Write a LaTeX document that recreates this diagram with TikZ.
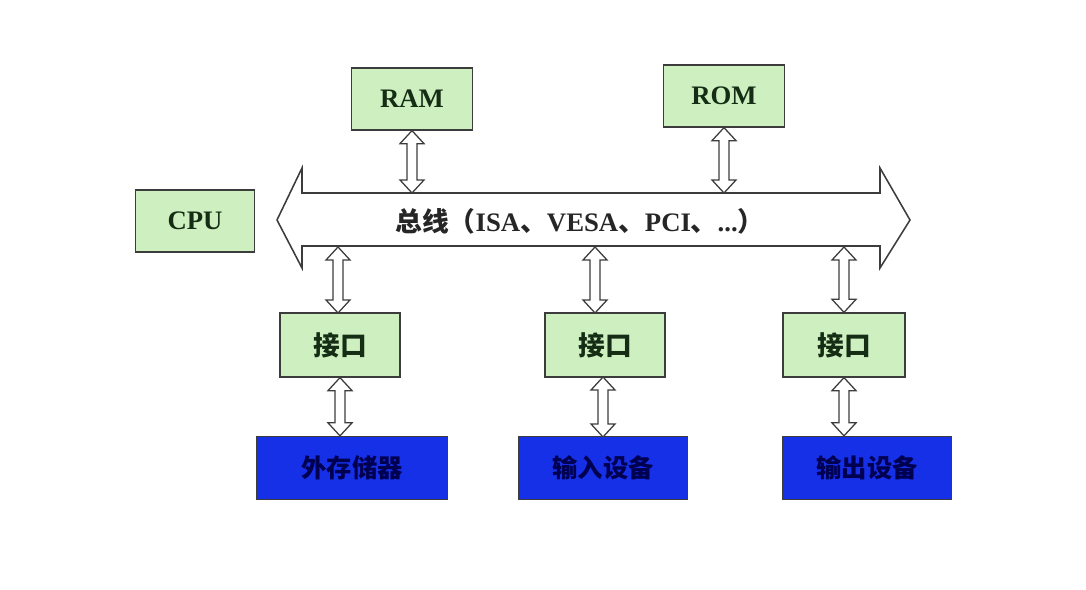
\documentclass[tikz,border=0pt]{standalone}
\usepackage{amssymb, amsmath}
\usepackage{fontspec}
\setmainfont{Liberation Serif}
\newfontfamily\cjk{Noto Sans CJK SC}
\usepackage{tikz}
\usetikzlibrary{calc,positioning}
\definecolor{boxgreen}{RGB}{206,240,192}
\definecolor{boxblue}{RGB}{22,48,232}
\definecolor{textblue}{RGB}{0,0,80}
\definecolor{textgreen}{RGB}{20,45,20}
\definecolor{edgegray}{RGB}{60,60,60}

\begin{document}
\begin{tikzpicture}[x=0.025cm,y=-0.025cm]
\tikzstyle{every node}+=[inner sep=0pt]
\tikzstyle{greenbox}=[draw=edgegray,line width=0.9pt,fill=boxgreen,text=textgreen,minimum height=1.55cm,font=\fontsize{19}{22}\selectfont\bfseries]
\tikzstyle{portbox}=[greenbox,minimum width=3cm,minimum height=1.6cm,font=\fontsize{19}{22}\selectfont\cjk\bfseries]
\tikzstyle{bluebox}=[draw=edgegray,line width=0.9pt,fill=boxblue,minimum height=1.575cm,text=textblue,font=\fontsize{18}{22}\selectfont\cjk\bfseries]
\tikzstyle{blockarrow}=[draw=edgegray,line width=0.9pt,fill=white,line join=miter,
  to path={(\tikztostart) -- ($(\tikztostart)+(12,13)$) -- ($(\tikztostart)+(5,13)$)
  -- ($(\tikztotarget)+(5,-13)$) -- ($(\tikztotarget)+(12,-13)$) -- (\tikztotarget)
  -- ($(\tikztotarget)+(-12,-13)$) -- ($(\tikztotarget)+(-5,-13)$)
  -- ($(\tikztostart)+(-5,13)$) -- ($(\tikztostart)+(-12,13)$) -- cycle}]
\useasboundingbox (0,0) rectangle (1086,590);
\fill[white] (0,0) rectangle (1086,590);
\node[greenbox,minimum width=2.975cm] (cpu) at (195,221) {CPU};
\node[greenbox,minimum width=3.025cm] (ram) at (412,99) {RAM};
\node[greenbox,minimum width=3.025cm] (rom) at (724,96) {ROM};
\draw[edgegray,line width=1.1pt,fill=white] (277,220) -- (302,168) -- (302,193) -- (880,193) -- (880,168)
  -- (910,220) -- (880,268) -- (880,246) -- (302,246) -- (302,268) -- cycle;
\node[font=\fontsize{19}{22}\selectfont\bfseries,text=black!85] (bus) at (580,221)
  {{\cjk 总线（}ISA{\cjk 、}VESA{\cjk 、}PCI{\cjk 、}...{\cjk ）}};
\node[portbox] (port1) at (340,345) {接口};
\node[portbox] (port2) at (605,345) {接口};
\node[portbox,minimum width=3.05cm] (port3) at (844,345) {接口};
\node[bluebox,minimum width=4.775cm] (disk) at (352,468) {外存储器};
\node[bluebox,minimum width=4.225cm] (input) at (603,468) {输入设备};
\node[bluebox,minimum width=4.225cm] (output) at (867,468) {输出设备};
\coordinate (ramtap) at (412,193);
\coordinate (romtap) at (724,193);
\coordinate (tap1) at (338,247);
\coordinate (tap2) at (595,247);
\coordinate (tap3) at (844,247);
\coordinate (port1top) at (338,313);
\coordinate (port2top) at (595,313);
\coordinate (port2bot) at (603,377);
\coordinate (input2) at (603,437);
\draw[blockarrow] (ram.south) to (ramtap);
\draw[blockarrow] (rom.south) to (romtap);
\draw[blockarrow] (tap1) to (port1top);
\draw[blockarrow] (tap2) to (port2top);
\draw[blockarrow] (tap3) to (port3.north);
\draw[blockarrow] (port1.south) to (port1.south |- disk.north);
\draw[blockarrow] (port2bot) to (input2);
\draw[blockarrow] (port3.south) to (port3.south |- output.north);
\end{tikzpicture}
\end{document}
